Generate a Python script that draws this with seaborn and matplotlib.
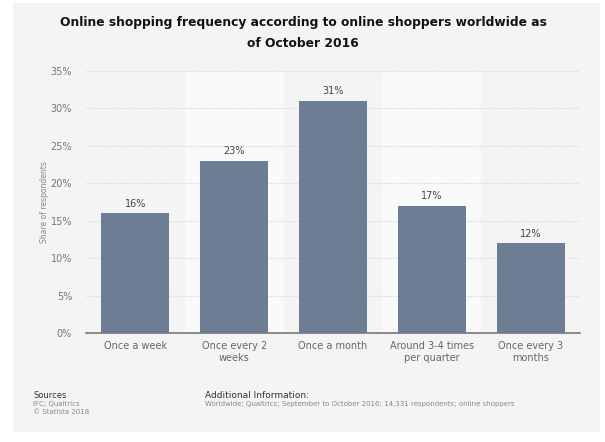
import matplotlib
matplotlib.use("Agg")
import matplotlib.pyplot as plt
import seaborn as sns
import pandas as pd
from matplotlib.patches import Rectangle

categories = ["Once a week", "Once every 2\nweeks", "Once a month", "Around 3-4 times\nper quarter", "Once every 3\nmonths"]
values = [16, 23, 31, 17, 12]
yticks = [0, 5, 10, 15, 20, 25, 30, 35]

sns.set_theme(style="white")
plt.rcParams['font.family'] = ['DejaVu Sans']

fig = plt.figure(figsize=(6.05, 4.42), dpi=100)
fig.patch.set_facecolor("white")
fig.add_artist(Rectangle((13/605, 1-432/442), (600-13)/605, (432-3)/442,
                         transform=fig.transFigure, facecolor="#f4f4f4", edgecolor="none", zorder=0))

ax = fig.add_axes([86/605, 1-333/442, (580-86)/605, (333-71)/442])
ax.set_facecolor("none")
df = pd.DataFrame({"cat": categories, "val": values})
sns.barplot(data=df, x="cat", y="val", color="#6d7d93", saturation=1, width=0.69, ax=ax, zorder=3,
            edgecolor="none", linewidth=0)

for i in range(len(categories)):
    if i % 2 == 1:
        ax.axvspan(i-0.5, i+0.5, color="#fafafa", zorder=0, lw=0)

ax.set_ylim(0, 35)
ax.set_xlim(-0.5, len(categories)-0.5)
ax.set_yticks(yticks)
ax.set_yticklabels([f"{t}%" for t in yticks], fontsize=7, color="#777777")
ax.tick_params(axis="x", labelsize=7, colors="#666666", length=0, pad=6)
ax.tick_params(axis="y", length=0, pad=10)
for t in yticks[1:]:
    ax.axhline(t, color="#e0e0e0", lw=0.8, ls=(0, (2, 1)), zorder=1)
for s in ["top", "right", "left"]:
    ax.spines[s].set_visible(False)
ax.spines["bottom"].set_color("#777777")
ax.spines["bottom"].set_linewidth(1.2)
ax.set_xlabel("")
ax.set_ylabel("Share of respondents", fontsize=5.5, color="#888888", labelpad=1)

for i, v in enumerate(values):
    ax.text(i, v + 0.6, f"{v}%", ha="center", va="bottom", fontsize=7, color="#444444")

fig.text(303/605, 1-33/442, "Online shopping frequency according to online shoppers worldwide as\nof October 2016",
         ha="center", va="center", fontsize=8.8, fontweight="bold", color="#111111", linespacing=1.8)

fig.text(33/605, 1-395/442, "Sources", fontsize=6, color="#333333", va="center")
fig.text(33/605, 1-401/442, "IFC; Qualtrics\n© Statista 2018", fontsize=5, color="#888888", va="top", linespacing=1.5)
fig.text(205/605, 1-395/442, "Additional Information:", fontsize=6.5, color="#333333", va="center")
fig.text(205/605, 1-401/442, "Worldwide; Qualtrics; September to October 2016; 14,331 respondents; online shoppers",
         fontsize=5, color="#888888", va="top")

fig.savefig("out.png", dpi=100)
